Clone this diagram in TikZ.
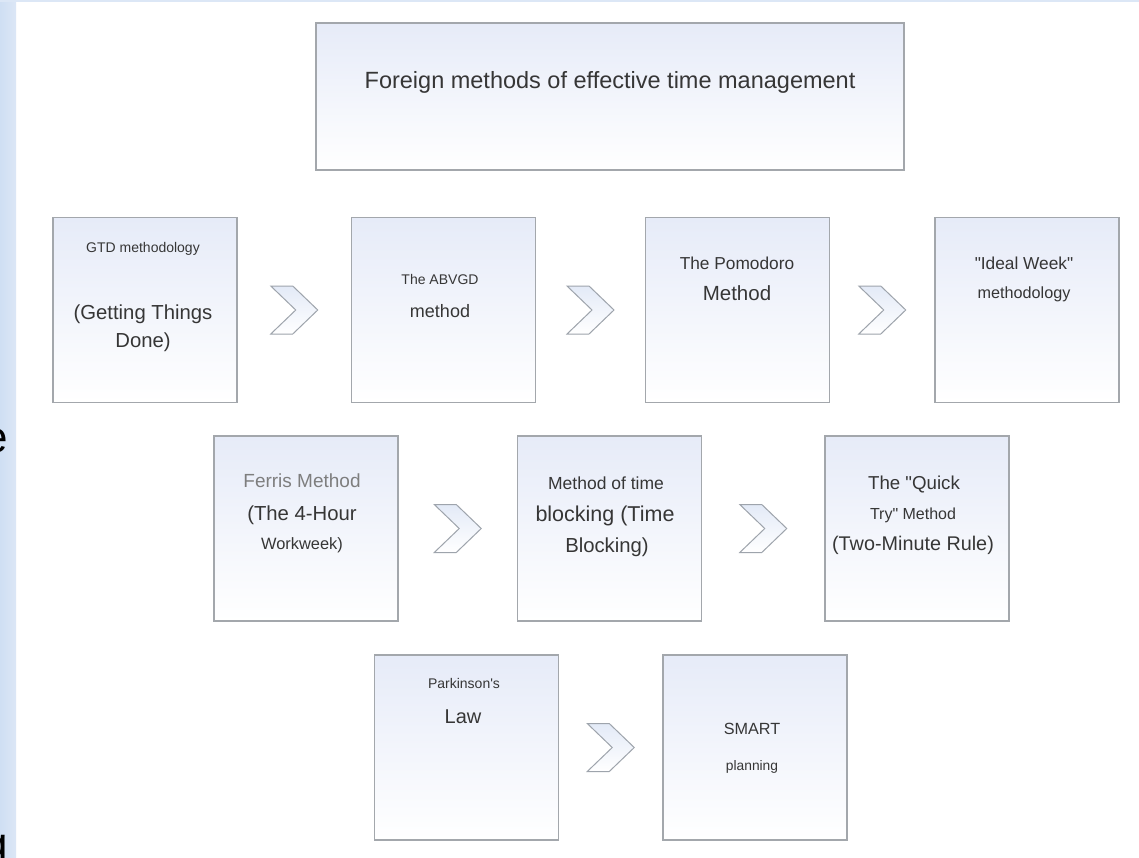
\documentclass[tikz,border=0pt]{standalone}
\usepackage{fontspec}
\setmainfont{Liberation Sans}[Ligatures=TeXOff]
\usetikzlibrary{calc}
\definecolor{frame}{HTML}{DCE7F6}
\definecolor{frameL}{HTML}{CFDFF3}
\definecolor{boxline}{HTML}{A3A7AC}
\definecolor{boxtop}{HTML}{E6EBF8}
\definecolor{txt}{HTML}{363636}
\definecolor{txtlight}{HTML}{7E7E7E}
\definecolor{chevfill}{HTML}{E3EAF7}
\definecolor{chevline}{HTML}{9EA4AC}
\tikzset{
  box/.style={draw=boxline, line width=1.2pt, top color=boxtop, bottom color=white,
              inner sep=0pt, minimum width=184pt, minimum height=185pt},
  lbl/.style={text=txt, anchor=base, inner sep=0pt},
  fs/.style={font=\fontsize{#1}{#1}\selectfont},
  chev/.pic={\draw[chevline, line width=1pt, top color=chevfill, bottom color=white]
     (-23.5,-24) -- (-1.5,-24) -- (23.5,0) -- (-1.5,24) -- (-23.5,24) -- (1.5,0) -- cycle;}
}
\begin{document}
\begin{tikzpicture}[x=1pt,y=-1pt]
\useasboundingbox (0,0) rectangle (1139,857);
\fill[white] (0,0) rectangle (1139,857);
\fill[left color=frameL, right color=frame] (0,0) rectangle (16,857);
\fill[frame] (0,0) rectangle (1139,2);
\begin{scope}
  \clip (0,0) rectangle (16,857);
  \node[anchor=base east, inner sep=0pt, fs=44, text=black] (le) at (8,452) {e};
  \node[anchor=base east, inner sep=0pt, fs=44, text=black] (lg) at (8,858) {g};
\end{scope}

% title
\node[box, minimum width=588pt, minimum height=147pt] (title) at (610,96.5) {};
\node[lbl, fs=23.5] (titletxt) at (610,88) {Foreign methods of effective time management};

% row 1
\node[box] (gtd) at (145,310) {};
\node[box] (abvgd) at (443.5,310) {};
\node[box] (pomo) at (737.5,310) {};
\node[box] (ideal) at (1027,310) {};
% row 2
\node[box] (ferris) at (306,528.5) {};
\node[box] (tblock) at (609.5,528.5) {};
\node[box] (quick) at (917,528.5) {};
% row 3
\node[box] (park) at (466.5,747.5) {};
\node[box] (smart) at (755,747.5) {};

% chevrons between boxes
\pic at ($(gtd.east)!0.5!(abvgd.west)$) {chev};
\pic at ($(abvgd.east)!0.5!(pomo.west)$) {chev};
\pic at ($(pomo.east)!0.5!(ideal.west)$) {chev};
\pic at ($(ferris.east)!0.5!(tblock.west)$) {chev};
\pic at ($(tblock.east)!0.5!(quick.west)$) {chev};
\pic at ($(park.east)!0.5!(smart.west)$) {chev};

% texts row 1
\node[lbl, fs=14] (gtd1) at (143,252) {GTD methodology};
\node[lbl, fs=20.3] (gtd2) at (143,319) {(Getting Things};
\node[lbl, fs=20.3] (gtd3) at (143,347) {Done)};
\node[lbl, fs=14] (ab1) at (440,284) {The ABVGD};
\node[lbl, fs=18] (ab2) at (440,317) {method};
\node[lbl, fs=17.3] (po1) at (737,269) {The Pomodoro};
\node[lbl, fs=20.5] (po2) at (737,300) {Method};
\node[lbl, fs=17.3] (id1) at (1024,269) {"Ideal Week"};
\node[lbl, fs=16.2] (id2) at (1024,298) {methodology};
% texts row 2
\node[lbl, fs=19, text=txtlight] (fe1) at (302,487) {Ferris Method};
\node[lbl, fs=20.3] (fe2) at (302,520) {(The 4-Hour};
\node[lbl, fs=16.4] (fe3) at (302,549) {Workweek)};
\node[lbl, fs=17.5] (tb1) at (606,489) {Method of time};
\node[lbl, fs=21.5] (tb2) at (605,521) {blocking (Time};
\node[lbl, fs=20.3] (tb3) at (607,552) {Blocking)};
\node[lbl, fs=18.7] (qu1) at (914,489) {The "Quick};
\node[lbl, fs=16] (qu2) at (913,519) {Try" Method};
\node[lbl, fs=19.8] (qu3) at (913,550) {(Two-Minute Rule)};
% texts row 3
\node[lbl, fs=14] (pa1) at (464,688) {Parkinson's};
\node[lbl, fs=20] (pa2) at (463,723) {Law};
\node[lbl, fs=16.2] (sm1) at (752,734) {SMART};
\node[lbl, fs=13.8] (sm2) at (752,770) {planning};
\end{tikzpicture}
\end{document}
